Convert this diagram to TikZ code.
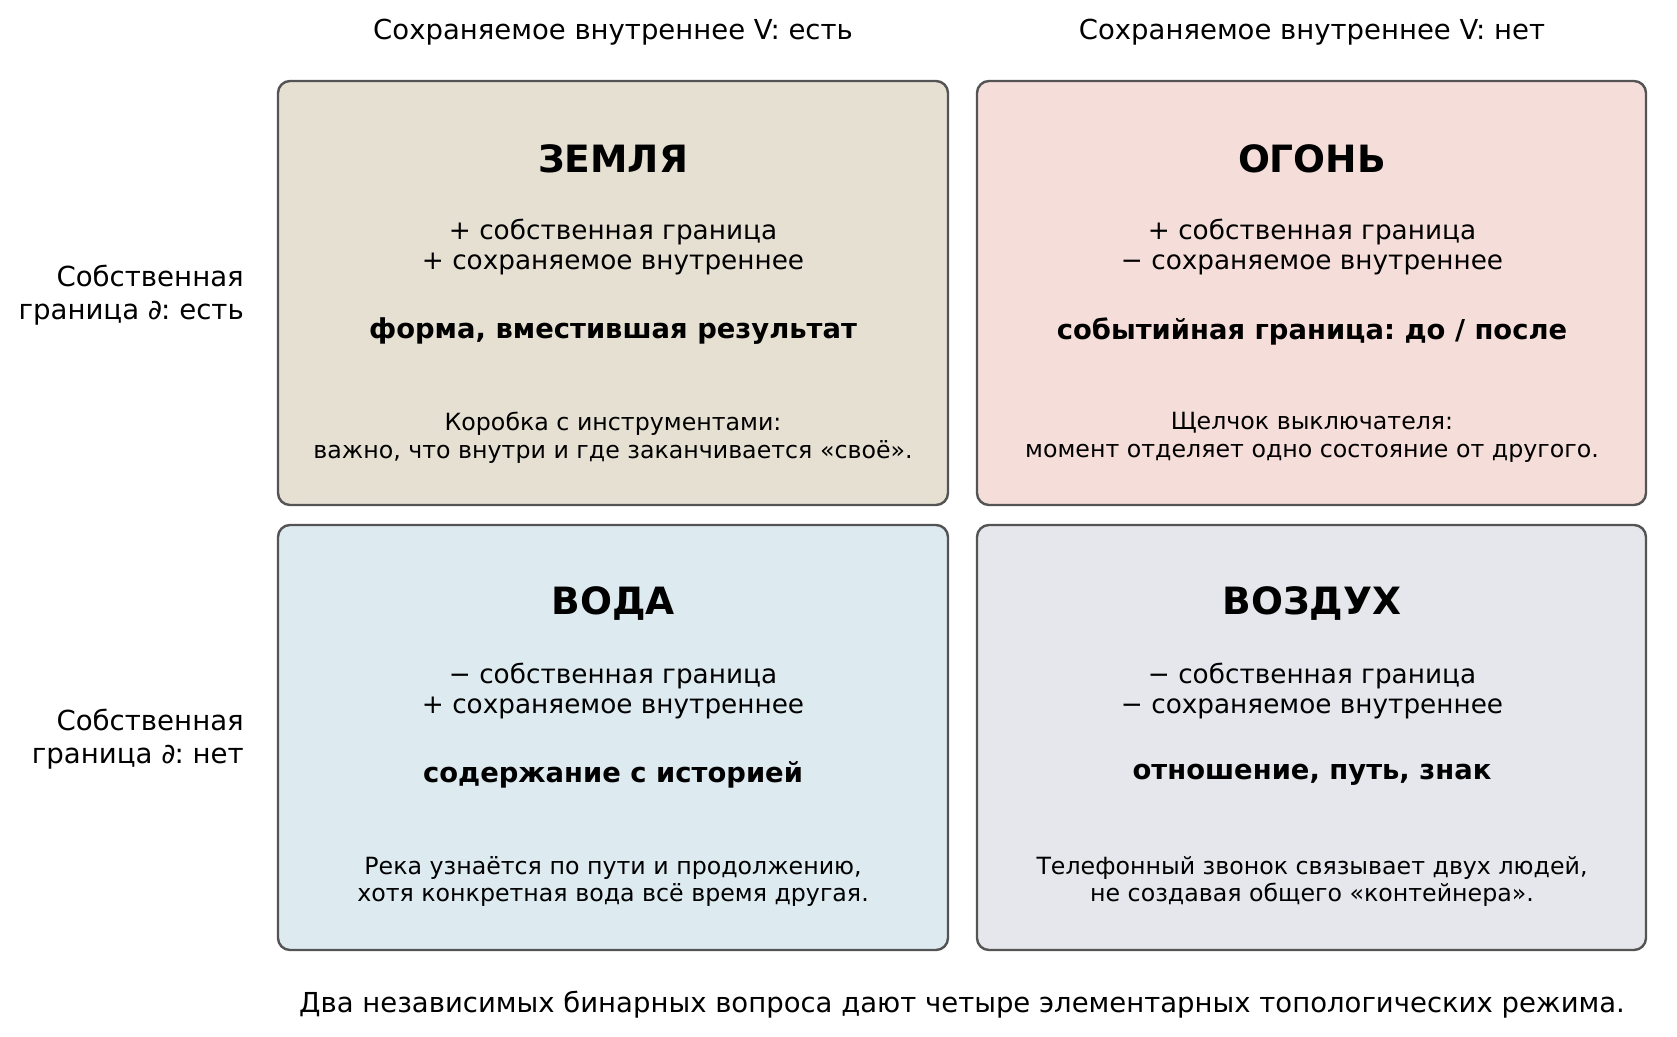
\documentclass[tikz,border=0pt]{standalone}
\usepackage{fontspec}
\setmainfont{DejaVu Sans}
\frenchspacing
\begin{document}
\begin{tikzpicture}[x=1pt,y=-1pt,
  cell/.style={draw=black!67,line width=2.4pt,rounded corners=12pt},
  hdr/.style={font=\fontsize{27.5}{30}\selectfont,inner sep=0pt},
  rowlab/.style={font=\fontsize{27.6}{33}\selectfont,align=right,anchor=east,inner sep=0pt},
  ttl/.style={font=\fontsize{37.6}{43}\bfseries\selectfont,inner sep=0pt},
  pm/.style={font=\fontsize{26.3}{30}\selectfont,align=center,inner sep=0pt},
  key/.style={font=\fontsize{27.4}{30}\bfseries\selectfont,inner sep=0pt},
  ex/.style={font=\fontsize{23.7}{27.8}\selectfont,align=center,inner sep=0pt}]
\definecolor{cearth}{HTML}{E6E0D3}
\definecolor{cfire}{HTML}{F5DED9}
\definecolor{cwater}{HTML}{DDEBF1}
\definecolor{cair}{HTML}{E6E7EC}
\useasboundingbox (0,0) rectangle (1677,1036);
% boxes
\draw[cell,fill=cearth] (278,81) rectangle (948,505);
\draw[cell,fill=cfire] (977,81) rectangle (1646,505);
\draw[cell,fill=cwater] (278,525) rectangle (948,950);
\draw[cell,fill=cair] (977,525) rectangle (1646,950);
% headers
\node[hdr] (h1) at (613,32) {Сохраняемое внутреннее V: есть};
\node[hdr] (h2) at (1312,32) {Сохраняемое внутреннее V: нет};
\node[rowlab] (r1) at (244,295) {Собственная\\граница {\itshape ∂}\kern-1pt: есть};
\node[rowlab] (r2) at (244,739) {Собственная\\граница {\itshape ∂}\kern-1pt: нет};
% earth
\node[ttl] (t1) at (613,159) {ЗЕМЛЯ};
\node[pm] (p1) at (613,247) {+ собственная граница\\+ сохраняемое внутреннее};
\node[key] (k1) at (613,331) {форма, вместившая результат};
\node[ex] (e1) at (613,437.5) {Коробка с инструментами:\\важно, что внутри и где заканчивается «своё».};
% fire
\node[ttl] (t2) at (1312,159) {ОГОНЬ};
\node[pm] (p2) at (1312,247) {+ собственная граница\\− сохраняемое внутреннее};
\node[key] (k2) at (1312,331) {событийная граница: до / после};
\node[ex] (e2) at (1312,437.5) {Щелчок выключателя:\\момент отделяет одно состояние от другого.};
% water
\node[ttl] (t3) at (613,603) {ВОДА};
\node[pm] (p3) at (613,691) {− собственная граница\\+ сохраняемое внутреннее};
\node[key] (k3) at (613,775) {содержание с историей};
\node[ex] (e3) at (613,881.5) {Река узнаётся по пути и продолжению,\\хотя конкретная вода всё время другая.};
% air
\node[ttl] (t4) at (1312,603) {ВОЗДУХ};
\node[pm] (p4) at (1312,691) {− собственная граница\\− сохраняемое внутреннее};
\node[key] (k4) at (1312,775) {отношение, путь, знак};
\node[ex] (e4) at (1312,881.5) {Телефонный звонок связывает двух людей,\\не создавая общего «контейнера».};
% caption
\node[hdr] (cap) at (962,1005) {Два независимых бинарных вопроса дают четыре элементарных топологических режима.};
\end{tikzpicture}
\end{document}
